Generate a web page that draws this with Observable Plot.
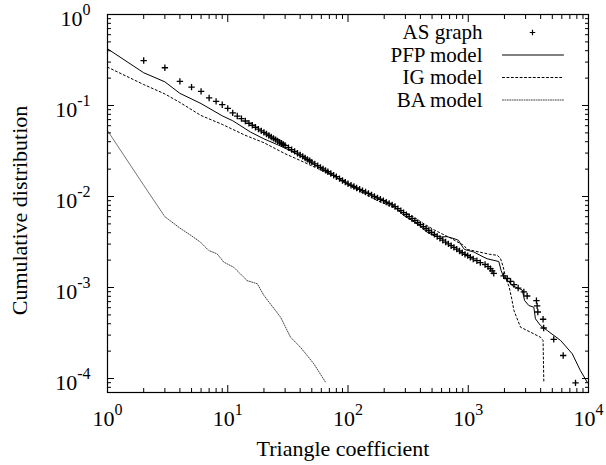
<!DOCTYPE html>
<html><head><meta charset="utf-8">
<script src="https://cdn.jsdelivr.net/npm/d3@7"></script>
<script src="https://cdn.jsdelivr.net/npm/@observablehq/plot@0.6"></script>
<style>body{margin:0;background:#fff}</style>
</head><body><div id="chart"></div>
<script>
// ---- data ----
const seriesNames = ["AS graph", "PFP model", "IG model", "BA model"];

const asX = [2,3,4,5,6,7,8,9,10,11,12,13,14,15,16,17,18,19,20,21,22,23,24,25,26,27,28,29,30,32,34,36,38,40,42,44,46,48,50,53,56,59,62,65,68,72,76,80,85,90,95,100,106,112,118,125,132,140,148,157,166,176,186,197,208,220,233,246,260,275,290,306,323,341,360,380,401,423,446,470,496,523,552,582,614,648,684,721,760,802,846,892,940,990,1040,1100,1180,1260,1380,1460,1530,1580,1630,1970,2110,2250,2400,2600,2900,3090,3690,3740,3790,4190,4240,5140,6160,7800];
const asY = [0.312,0.26,0.184,0.159,0.143,0.121,0.111,0.102,0.093,0.083,0.0766,0.0718,0.0676,0.0638,0.0607,0.0577,0.0551,0.0527,0.0506,0.0486,0.0468,0.0451,0.0436,0.0422,0.0408,0.0396,0.0385,0.0373,0.0363,0.0344,0.0328,0.0313,0.0299,0.0287,0.0276,0.0265,0.0256,0.0247,0.0239,0.0228,0.0218,0.0209,0.0201,0.0194,0.0187,0.0179,0.0171,0.0165,0.0157,0.015,0.0144,0.0138,0.0133,0.0129,0.0124,0.012,0.0116,0.0112,0.0108,0.0104,0.01,0.00966,0.00933,0.009,0.00869,0.00839,0.00809,0.00776,0.00736,0.007,0.00665,0.00631,0.00601,0.0057,0.00543,0.00515,0.00491,0.00467,0.00445,0.00423,0.00403,0.00383,0.00364,0.00347,0.00331,0.00316,0.00302,0.00288,0.00276,0.00264,0.00252,0.00241,0.00231,0.00224,0.00215,0.00206,0.00197,0.00188,0.00179,0.0017,0.00161,0.00152,0.00143,0.001345,0.001256,0.001166,0.001076,0.000987,0.000897,0.000807,0.000717,0.000628,0.000538,0.000448,0.000359,0.000269,0.000179,0.0000897];

const pfpX = [1,2,3,4,6,9,11,15.5,20,29,40,52,65,80,100,130,160,200,240,255,290,341,400,455,520,600,667,760,830,880,930,1000,1110,1350,1436,1795,1877,1950,2320,2810,2940,3190,3510,3620,3990,4540,5860,7330,8570,9750];
const pfpY = [0.42,0.229,0.182,0.136,0.105,0.077,0.068,0.051,0.043,0.0348,0.028,0.0225,0.019,0.0163,0.0137,0.0116,0.0101,0.0089,0.008,0.0073,0.0062,0.00545,0.0047,0.00405,0.0037,0.0036,0.00362,0.00345,0.0033,0.0029,0.00262,0.00255,0.00246,0.00215,0.00207,0.00193,0.00154,0.00135,0.00105,0.00094,0.00072,0.000634,0.000608,0.000453,0.000382,0.000337,0.000262,0.000187,0.000122,0.0000912];

const igX = [1,2,3,4,6,9,14,20,30,40,55,76,111,175,240,291,331,400,519,711,919,980,1260,1500,1740,1850,1950,2040,2190,2300,2400,2720,3300,3990,4190,4250];
const igY = [0.264,0.17,0.134,0.108,0.0776,0.062,0.047,0.039,0.0295,0.0249,0.0205,0.0168,0.0124,0.00904,0.0076,0.00673,0.0063,0.0053,0.0043,0.0035,0.0029,0.00262,0.00244,0.00232,0.00226,0.0021,0.0017,0.0013,0.00101,0.00075,0.000558,0.000366,0.000323,0.000284,0.000262,0.0000912];

const baX = [1,2,3,4,5,5.93,6.96,8.17,9.27,11.2,14.5,17.6,20,27.5,33.3,40.3,52,65];
const baY = [0.053,0.0133,0.006,0.0045,0.0037,0.00315,0.00255,0.00234,0.0019,0.00167,0.00119,0.0011,0.000817,0.000472,0.000284,0.00022,0.000145,0.0000912];

const xTickLabels = ["10^0","10^1","10^2","10^3","10^4"];
const yTickLabels = ["10^0","10^-1","10^-2","10^-3","10^-4"];
const xTitle = "Triangle coefficient";
const yTitle = "Cumulative distribution";

// ---- tables built from the arrays ----
const toRows = (xs, ys) => xs.map((x, i) => ({x, y: ys[i]}));
const asData = toRows(asX, asY), pfpData = toRows(pfpX, pfpY), igData = toRows(igX, igY), baData = toRows(baX, baY);
const labelValue = s => Math.pow(10, +s.split("^")[1]);
const xMajor = xTickLabels.map(labelValue);
const yMajor = yTickLabels.map(labelValue);
const yDomain = [7.02e-5, 1];
const xMinor = [], yMinor = [];
for (let e = 0; e < 4; e++) for (let m = 2; m < 10; m++) xMinor.push(m * Math.pow(10, e));
for (let e = -5; e < 0; e++) for (let m = 2; m < 10; m++) { const v = m * Math.pow(10, e); if (v >= yDomain[0] && v <= 1) yMinor.push(v); }

const FONT = "Liberation Serif, Times New Roman, serif";
const FS = 22;
const lineShape = {draw(ctx, l) { ctx.moveTo(0, 0); ctx.lineTo(0, -l); }};
const styles = [
  null,
  {stroke: "black", strokeWidth: 1},
  {stroke: "black", strokeWidth: 1, strokeDasharray: "2,2.4"},
  {stroke: "#444", strokeWidth: 1, strokeDasharray: "1,1.4"}
];
const rowDy = [18, 40.5, 63, 85.5];
const plusR = 2.2;

const legendMarks = [];
seriesNames.forEach((name, i) => {
  legendMarks.push(Plot.text([name], {frameAnchor: "top-right", dx: -106, dy: rowDy[i], textAnchor: "end", lineAnchor: "middle", fontSize: 21, fill: "black"}));
  if (i === 0) legendMarks.push(Plot.dot([name], {frameAnchor: "top-right", dx: -56, dy: rowDy[i], symbol: "plus", r: 1.9, stroke: "black", strokeWidth: 1.2}));
  else legendMarks.push(Plot.vector([name], {frameAnchor: "top-right", dx: -86, dy: rowDy[i], length: 61, rotate: 90, anchor: "start", shape: lineShape, ...styles[i]}));
});

const chart = Plot.plot({
  width: 606, height: 465,
  marginLeft: 107, marginRight: 18, marginTop: 14, marginBottom: 73,
  style: {fontFamily: FONT, background: "white", color: "black"},
  x: {type: "log", domain: [1, 1e4]},
  y: {type: "log", domain: yDomain},
  marks: [
    Plot.line(baData, {x: "x", y: "y", ...styles[3]}),
    Plot.line(igData, {x: "x", y: "y", ...styles[2]}),
    Plot.line(pfpData, {x: "x", y: "y", ...styles[1]}),
    Plot.dot(asData, {x: "x", y: "y", symbol: "plus", r: plusR, stroke: "black", strokeWidth: 1.3}),
    Plot.frame({stroke: "black", strokeWidth: 1.2}),
    Plot.axisX(xMajor, {anchor: "bottom", tickSize: -7, fill: "none", label: null}),
    Plot.axisX(xMinor, {anchor: "bottom", tickSize: -4, fill: "none", label: null}),
    Plot.axisX(xMajor, {anchor: "top", tickSize: -7, fill: "none", label: null}),
    Plot.axisX(xMinor, {anchor: "top", tickSize: -4, fill: "none", label: null}),
    Plot.axisY(yMajor, {anchor: "left", tickSize: -7, fill: "none", label: null}),
    Plot.axisY(yMinor, {anchor: "left", tickSize: -4, fill: "none", label: null}),
    Plot.axisY(yMajor, {anchor: "right", tickSize: -7, fill: "none", label: null}),
    Plot.axisY(yMinor, {anchor: "right", tickSize: -4, fill: "none", label: null}),
    Plot.text(xTickLabels, {x: labelValue, text: d => d, frameAnchor: "bottom", lineAnchor: "bottom", dy: 33, textAnchor: "middle", fontSize: FS, fill: "black"}),
    Plot.text(yTickLabels, {y: labelValue, text: d => d, frameAnchor: "left", lineAnchor: "bottom", dx: -17, dy: 11, textAnchor: "end", fontSize: FS, fill: "black"}),
    Plot.text([xTitle], {frameAnchor: "bottom", lineAnchor: "bottom", textAnchor: "middle", dx: -5, dy: 63, fontSize: FS, fill: "black"}),
    Plot.text([yTitle], {frameAnchor: "left", rotate: -90, textAnchor: "middle", lineAnchor: "middle", dx: -88, dy: 7, fontSize: FS, fill: "black"}),
    ...legendMarks
  ]
});

// superscript exponents as real tspans
const NS = "http://www.w3.org/2000/svg";
chart.querySelectorAll("text").forEach(t => {
  if (t.children.length === 0 && t.textContent.includes("^")) {
    const [base, exp] = t.textContent.split("^");
    t.textContent = "";
    const a = document.createElementNS(NS, "tspan"); a.textContent = base;
    const b = document.createElementNS(NS, "tspan"); b.textContent = exp;
    b.setAttribute("dy", "-11"); b.setAttribute("font-size", "16");
    t.append(a, b);
  }
});
document.getElementById("chart").append(chart);
</script></body></html>
